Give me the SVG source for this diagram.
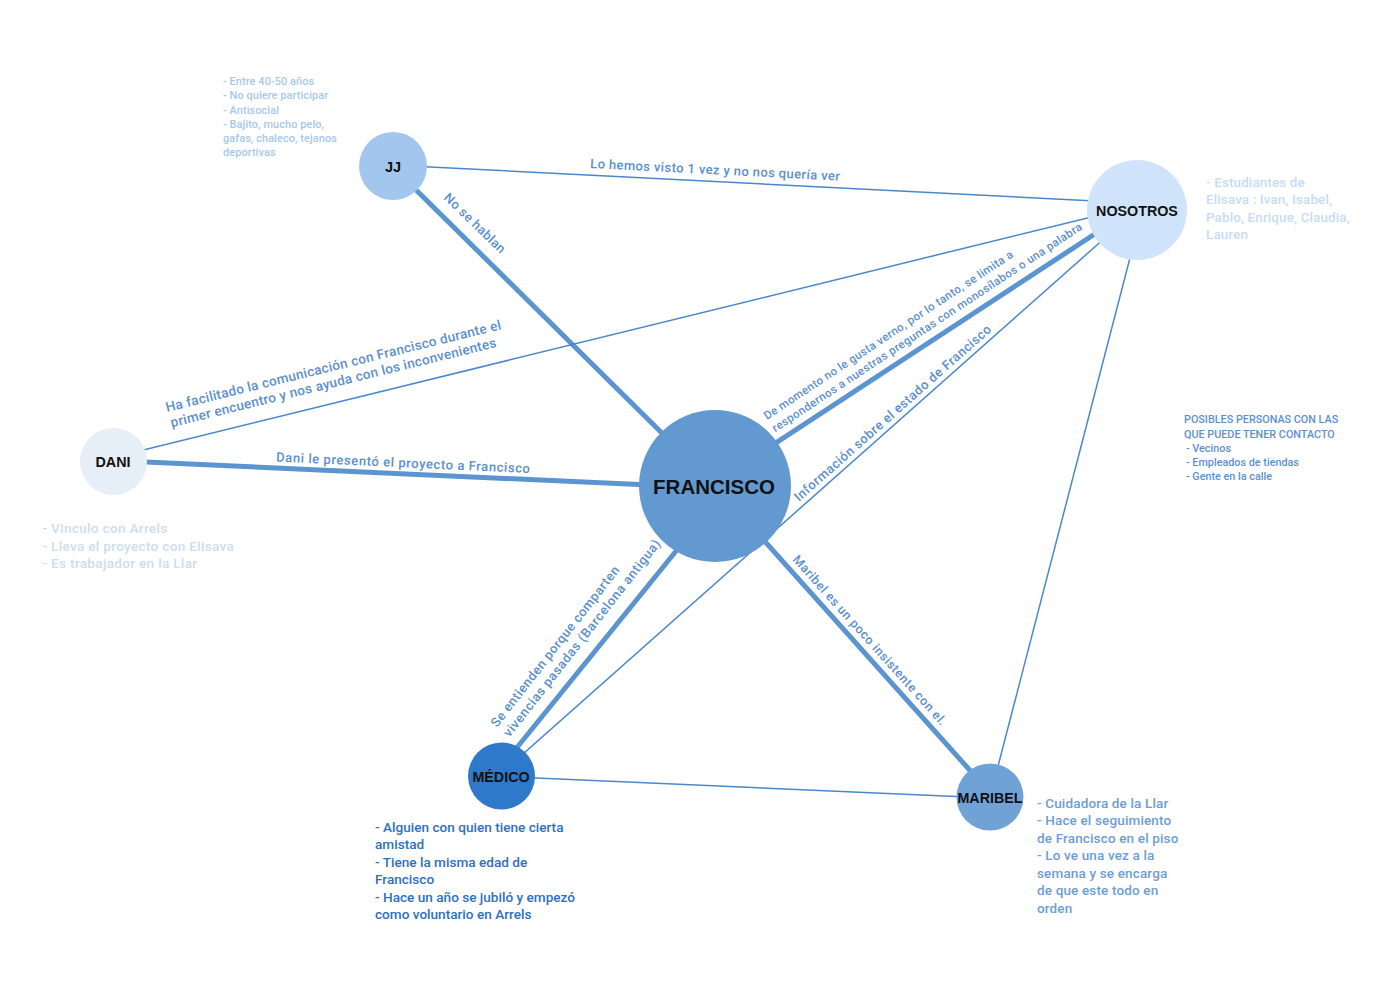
<svg xmlns="http://www.w3.org/2000/svg" width="1400" height="990" viewBox="0 0 1400 990">
<style>
.thick{stroke:#5B94D0;stroke-width:5;fill:none;stroke-linecap:butt}
.thin{stroke:#4A87CA;stroke-width:1.5;fill:none}
.lbl{font-family:Roboto,"Liberation Sans",sans-serif;font-weight:500;fill:#5B8FCC}
.nlbl{font-family:"Liberation Sans",Arial,sans-serif;font-weight:bold;fill:#111;text-anchor:middle}
.note{font-family:Roboto,"Liberation Sans",sans-serif;font-weight:500}
</style>
<rect width="1400" height="990" fill="#ffffff"/>
<g id="connectors">
  <line class="thin" x1="410" y1="166" x2="1095" y2="201"/>
  <line class="thick" x1="404" y1="178" x2="675" y2="446"/>
  <line class="thin" x1="120" y1="455.7" x2="1110" y2="212.4"/>
  <line class="thick" x1="113" y1="460.5" x2="715" y2="488"/>
  <line class="thick" x1="753" y1="458" x2="1110" y2="224"/>
  <line class="thin" x1="1106" y1="237" x2="501" y2="773.5"/>
  <line class="thin" x1="1137.5" y1="229" x2="990" y2="797"/>
  <line class="thick" x1="702" y1="519" x2="498" y2="771"/>
  <line class="thick" x1="743" y1="517" x2="992" y2="795"/>
  <line class="thin" x1="501" y1="776.5" x2="990" y2="798"/>
</g>
<g id="edge-labels">
  <g transform="translate(590,168) rotate(2.9)"><text class="lbl" font-size="13" textLength="250">Lo hemos visto 1 vez y no nos quería ver</text></g>
  <g transform="translate(443,198.5) rotate(44)"><text class="lbl" font-size="13" textLength="80">No se hablan</text></g>
  <g transform="translate(167,412) rotate(-13.9)">
    <text class="lbl" font-size="13.5" textLength="345">Ha facilitado la comunicación con Francisco durante el</text>
    <text class="lbl" font-size="13.5" x="1" y="16" textLength="335">primer encuentro y nos ayuda con los inconvenientes</text>
  </g>
  <g transform="translate(276,461.5) rotate(2.6)"><text class="lbl" font-size="13" textLength="254">Dani le presentó el proyecto a Francisco</text></g>
  <g transform="translate(767,420) rotate(-33.5)">
    <text class="lbl" font-size="11.5" textLength="296">De momento no le gusta verno, por lo tanto, se limita a</text>
    <text class="lbl" font-size="11.5" x="0" y="15" textLength="369">respondernos a nuestras preguntas con monosílabos o una palabra</text>
  </g>
  <g transform="translate(799,502) rotate(-41.6)"><text class="lbl" font-size="13" textLength="258">Información sobre el estado de Francisco</text></g>
  <g transform="translate(497,728) rotate(-52)">
    <text class="lbl" font-size="13" textLength="200">Se entienden porque comparten</text>
    <text class="lbl" font-size="13" x="0" y="16" textLength="246">vivencias pasadas (Barcelona antigua)</text>
  </g>
  <g transform="translate(792,560) rotate(48.1)"><text class="lbl" font-size="12.5" textLength="223">Maribel es un poco insistente con el.</text></g>
</g>
<g id="node-francisco">
  <circle cx="715" cy="486" r="76" fill="#6399D1"/>
  <text class="nlbl" x="714" y="493.5" font-size="20.5">FRANCISCO</text>
</g>
<g id="node-jj">
  <circle cx="393" cy="166" r="34" fill="#A2C6EE"/>
  <text class="nlbl" x="393" y="172" font-size="14.5">JJ</text>
</g>
<g id="node-nosotros">
  <circle cx="1137" cy="210" r="50" fill="#CFE4FB"/>
  <text class="nlbl" x="1137" y="215.5" font-size="14.3">NOSOTROS</text>
</g>
<g id="node-dani">
  <circle cx="113.5" cy="461.5" r="33.5" fill="#E6EEF8"/>
  <text class="nlbl" x="113" y="466.5" font-size="14.3">DANI</text>
</g>
<g id="node-medico">
  <circle cx="501.5" cy="776" r="33.5" fill="#2F79CA"/>
  <text class="nlbl" x="501" y="781.5" font-size="14.3">MÉDICO</text>
</g>
<g id="node-maribel">
  <circle cx="990" cy="797" r="33.5" fill="#70A2D8"/>
  <text class="nlbl" x="990" y="802.5" font-size="14.3">MARIBEL</text>
</g>
<g id="note-jj" class="note" font-size="10.9" fill="#A5C8EE" letter-spacing="0.1">
  <text x="223" y="85">- Entre 40-50 años</text>
  <text x="223" y="99.3">- No quiere participar</text>
  <text x="223" y="113.5">- Antisocial</text>
  <text x="223" y="127.7">- Bajito, mucho pelo,</text>
  <text x="223" y="141.9">gafas, chaleco, tejanos</text>
  <text x="223" y="156">deportivas</text>
</g>
<g id="note-nosotros" class="note" font-size="13.4" fill="#C5DCF5" letter-spacing="0.15">
  <text x="1206" y="186.7">- Estudiantes de</text>
  <text x="1206" y="204.2">Elisava : Ivan, Isabel,</text>
  <text x="1206" y="221.7">Pablo, Enrique, Claudia,</text>
  <text x="1206" y="239.2">Lauren</text>
</g>
<g id="note-posibles" class="note" font-size="10.8" fill="#5D91CD">
  <text x="1184" y="423.3">POSIBLES PERSONAS CON LAS</text>
  <text x="1184" y="437.6">QUE PUEDE TENER CONTACTO</text>
  <text x="1186" y="451.8">- Vecinos</text>
  <text x="1186" y="466">- Empleados de tiendas</text>
  <text x="1186" y="480.2">- Gente en la calle</text>
</g>
<g id="note-dani" class="note" font-size="13.6" fill="#CCDDF3" letter-spacing="0.3">
  <text x="42.5" y="533.3">- Vinculo con Arrels</text>
  <text x="42.5" y="550.8">- Lleva el proyecto con Elisava</text>
  <text x="42.5" y="568.3">- Es trabajador en la Llar</text>
</g>
<g id="note-medico" class="note" font-size="13.6" fill="#2E6FBF">
  <text x="375" y="831.7">- Alguien con quien tiene cierta</text>
  <text x="375" y="849.2">amistad</text>
  <text x="375" y="866.7">- Tiene la misma edad de</text>
  <text x="375" y="884.2">Francisco</text>
  <text x="375" y="901.7">- Hace un año se jubiló y empezó</text>
  <text x="375" y="919.2">como voluntario en Arrels</text>
</g>
<g id="note-maribel" class="note" font-size="13.5" fill="#6D9DD4" letter-spacing="0.15">
  <text x="1037" y="807.7">- Cuidadora de la Llar</text>
  <text x="1037" y="825.2">- Hace el seguimiento</text>
  <text x="1037" y="842.7">de Francisco en el piso</text>
  <text x="1037" y="860.2">- Lo ve una vez a la</text>
  <text x="1037" y="877.7">semana y se encarga</text>
  <text x="1037" y="895.2">de que este todo en</text>
  <text x="1037" y="912.7">orden</text>
</g>
</svg>
